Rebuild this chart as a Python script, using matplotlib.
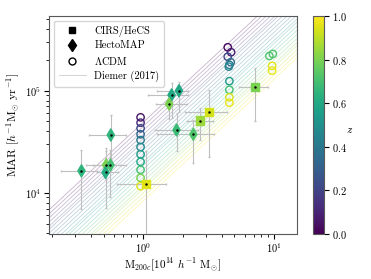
import numpy as np
import matplotlib
matplotlib.use("Agg")
import matplotlib.pyplot as plt
from matplotlib.lines import Line2D

plt.rcParams['font.family'] = 'serif'
plt.rcParams['font.serif'] = ['cmr10', 'DejaVu Serif']
plt.rcParams['mathtext.fontset'] = 'cm'
plt.rcParams['axes.formatter.use_mathtext'] = True
plt.rcParams['axes.edgecolor'] = '0.35'

# CIRS/HeCS clusters
cirs_m = [1.05, 2.72, 3.21, 7.18]
cirs_m_lo = [0.625, 2.15, 2.09, 5.45]
cirs_m_hi = [1.49, 3.40, 4.36, 9.09]
cirs_mar = [12200, 51000, 61800, 108000]
cirs_mar_lo = [2000, 32900, 22500, 50500]
cirs_mar_hi = [25600, 67600, 101600, 168000]
cirs_z = [0.95, 0.85, 0.93, 0.80]

# HectoMAP clusters
hecto_m = [0.337, 0.520, 0.562, 0.515, 0.565, 1.65, 1.88, 1.58, 1.80, 2.42]
hecto_m_lo = [0.234, 0.368, 0.412, 0.440, 0.385, 1.08, 1.27, 1.25, 1.23, 1.27]
hecto_m_hi = [0.440, 0.736, 0.675, 0.643, 0.736, 2.20, 2.21, 2.15, 2.64, 3.49]
hecto_mar = [16400, 18700, 18700, 15800, 36800, 90800, 100000, 74000, 41200, 37400]
hecto_mar_lo = [6900, 13300, 9080, 7040, 20900, 54000, 62200, 53000, 25600, 19400]
hecto_mar_hi = [26200, 27400, 26200, 25600, 57500, 119000, 122000, 90800, 60000, 51600]
hecto_z = [0.65, 0.80, 0.70, 0.62, 0.65, 0.60, 0.60, 0.80, 0.68, 0.72]

# LCDM predictions
lcdm_m = [0.955] * 11 + [4.44, 4.71, 4.44, 4.68, 4.57, 4.52, 4.57, 4.57, 4.57, 4.57] + [9.25, 9.83, 9.71, 9.71]
lcdm_mar = [54800, 48600, 42800, 37400, 32800, 28100, 23800, 20100, 16800, 14000, 11600,
            266000, 238000, 215000, 190000, 179000, 172000, 124000, 102000, 86100, 76300,
            219000, 229000, 175000, 157000]
lcdm_z = [0.05, 0.12, 0.22, 0.32, 0.42, 0.48, 0.55, 0.6, 0.7, 0.8, 0.95,
          0.02, 0.08, 0.2, 0.35, 0.42, 0.45, 0.55, 0.7, 0.93, 0.97,
          0.72, 0.72, 0.95, 0.97]

# Diemer (2017) relations: log MAR at M = 1, slope in log-log
diemer_z = [0.0, 0.05, 0.1, 0.15, 0.2, 0.25, 0.3, 0.35, 0.4, 0.45, 0.5,
            0.55, 0.6, 0.65, 0.7, 0.75, 0.8, 0.85, 0.9, 0.95, 1.0]
diemer_logmar = [4.69, 4.65, 4.61, 4.57, 4.53, 4.50, 4.46, 4.42, 4.38, 4.34, 4.30,
                 4.27, 4.23, 4.19, 4.15, 4.11, 4.07, 4.04, 4.00, 3.96, 3.92]
diemer_slope = 1.19
diemer_mass = [0.15, 20.0]

cmap = plt.get_cmap('viridis')

fig = plt.figure(figsize=(3.71, 2.79), dpi=100)
ax = fig.add_axes([0.132, 0.161, 0.668, 0.782])
cax = fig.add_axes([0.8437, 0.161, 0.0296, 0.782])

for z, a in zip(diemer_z, diemer_logmar):
    mm = np.array(diemer_mass)
    ax.plot(mm, 10 ** (a + diemer_slope * np.log10(mm)), color=cmap(z), alpha=0.3, lw=0.6, zorder=1)


def draw_errors(m, m_lo, m_hi, mar, mar_lo, mar_hi):
    m = np.array(m)
    mar = np.array(mar)
    xerr = [m - np.array(m_lo), np.array(m_hi) - m]
    yerr = [mar - np.array(mar_lo), np.array(mar_hi) - mar]
    eb = ax.errorbar(m, mar, xerr=xerr, yerr=yerr, fmt='none', ecolor='0.75',
                     elinewidth=0.8, capsize=1.0, capthick=1.0, zorder=2)
    for cap in eb[1]:
        cap.set_color('k')


draw_errors(cirs_m, cirs_m_lo, cirs_m_hi, cirs_mar, cirs_mar_lo, cirs_mar_hi)
draw_errors(hecto_m, hecto_m_lo, hecto_m_hi, hecto_mar, hecto_mar_lo, hecto_mar_hi)

ax.scatter(lcdm_m, lcdm_mar, s=28, facecolors='none', edgecolors=cmap(np.array(lcdm_z)),
           linewidths=1.0, zorder=3)
ax.scatter(cirs_m, cirs_mar, c=cirs_z, cmap='viridis', vmin=0, vmax=1, marker='s', s=34, zorder=4)
ax.scatter(hecto_m, hecto_mar, c=hecto_z, cmap='viridis', vmin=0, vmax=1, marker='d', s=38, zorder=4)
ax.plot(cirs_m + hecto_m, cirs_mar + hecto_mar, 'k.', ms=1.5, zorder=5)

ax.set_xscale('log')
ax.set_yscale('log')
ax.set_xlim(0.19, 15)
ax.set_ylim(3.94e3, 5.4e5)
ax.tick_params(labelsize=7.5, pad=2)
ax.set_xlabel(r'M$_{200c}$[10$^{14}$ $h^{-1}$ M$_{\odot}$]', fontsize=8, labelpad=1)
ax.set_ylabel(r'MAR [$h^{-1}$M$_{\odot}$ yr$^{-1}$]', fontsize=8.5, labelpad=2)

handles = [
    Line2D([], [], marker='s', color='k', ls='none', ms=5),
    Line2D([], [], marker='d', color='k', ls='none', ms=6),
    Line2D([], [], marker='o', mfc='none', mec='k', ls='none', ms=5),
    Line2D([], [], color='0.6', alpha=0.5, lw=0.6),
]
labels = ['CIRS/HeCS', 'HectoMAP', r'$\Lambda$CDM', 'Diemer (2017)']
ax.legend(handles, labels, loc='upper left', fontsize=7.5, handlelength=2.6,
          borderpad=0.45, labelspacing=0.4)

sm = plt.cm.ScalarMappable(cmap='viridis', norm=plt.Normalize(0, 1))
cb = fig.colorbar(sm, cax=cax)
cb.set_ticks([0.0, 0.2, 0.4, 0.6, 0.8, 1.0])
cb.ax.tick_params(labelsize=7.5, pad=2)
cb.set_label('$z$', rotation=0, fontsize=8, labelpad=2)

fig.savefig('out.png', dpi=100)
